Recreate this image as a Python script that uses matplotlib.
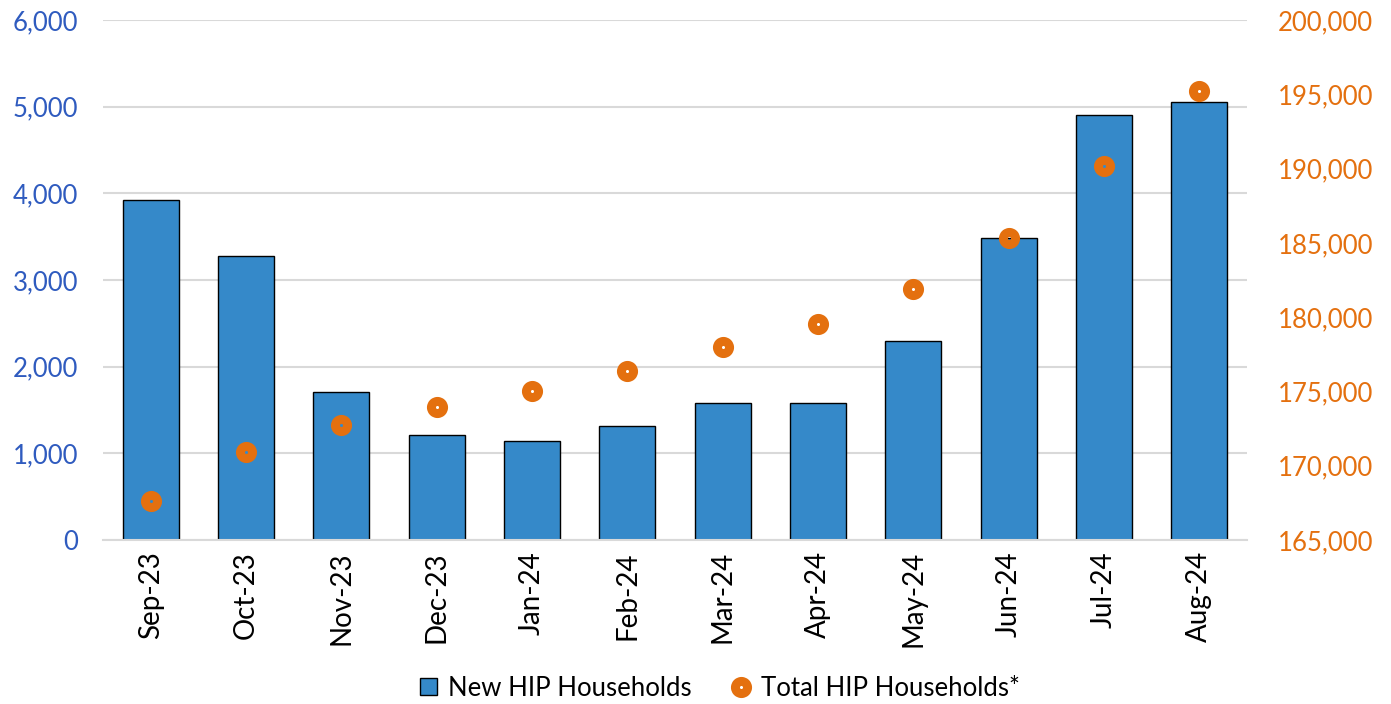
import matplotlib
matplotlib.use("Agg")
import matplotlib.pyplot as plt
from matplotlib.ticker import FuncFormatter, MultipleLocator
from matplotlib.lines import Line2D
from matplotlib.patches import Patch

months = ["Sep-23", "Oct-23", "Nov-23", "Dec-23", "Jan-24", "Feb-24",
          "Mar-24", "Apr-24", "May-24", "Jun-24", "Jul-24", "Aug-24"]
new_hip = [3920, 3280, 1710, 1210, 1140, 1315, 1580, 1580, 2295, 3485, 4905, 5055]
total_hip = [167600, 170900, 172750, 173950, 175000, 176400,
             178000, 179550, 181900, 185350, 190200, 195250]

BLUE_BAR = "#3589C9"
BLUE_TXT = "#2F5BBF"
ORANGE = "#E4700F"

plt.rcParams['font.family'] = ['Lato', 'DejaVu Sans']

fig = plt.figure(figsize=(13.91, 7.04), dpi=100)
ax = fig.add_axes([103/1391, 1 - 540/704, 1144/1391, 520/704])
x = list(range(len(months)))
ax.bar(x, new_hip, width=0.59, color=BLUE_BAR, edgecolor="black", linewidth=1.0, zorder=2)
ax.set_ylim(0, 6000)
ax.set_xlim(-0.5, len(months) - 0.5)
ax.yaxis.set_major_locator(MultipleLocator(1000))
ax.yaxis.set_major_formatter(FuncFormatter(lambda v, p: f"{int(v):,}"))
ax.grid(axis="y", color="#D9D9D9", linewidth=1.5, zorder=0)
ax.set_axisbelow(True)
for s in ["top", "right", "left"]:
    ax.spines[s].set_visible(False)
ax.spines["bottom"].set_color("#D9D9D9")
ax.spines["bottom"].set_linewidth(1.5)
ax.tick_params(axis="y", length=0, labelsize=18.5, labelcolor=BLUE_TXT, pad=18)
ax.tick_params(axis="x", length=0, labelsize=20, pad=8)
ax.set_xticks(x)
ax.set_xticklabels(months, rotation=90)

ax2 = ax.twinx()
ax2.set_ylim(165000, 200000)
ax2.yaxis.set_major_locator(MultipleLocator(5000))
ax2.yaxis.set_major_formatter(FuncFormatter(lambda v, p: f"{int(v):,}"))
for s in ["top", "right", "left", "bottom"]:
    ax2.spines[s].set_visible(False)
ax2.tick_params(axis="y", length=0, labelsize=18.5, labelcolor=ORANGE, pad=22)
ax2.plot(x, total_hip, linestyle="none", marker="o", markersize=8.8,
         markerfacecolor="none", markeredgecolor=ORANGE, markeredgewidth=6.4, zorder=3)

handles = [Patch(facecolor=BLUE_BAR, edgecolor="black", linewidth=1.0),
           Line2D([], [], linestyle="none", marker="o", markersize=8.8,
                  markerfacecolor="none", markeredgecolor=ORANGE, markeredgewidth=6.4)]
fig.legend(handles, ["New HIP Households", "Total HIP Households*"],
           loc="center", bbox_to_anchor=(720/1391, 1 - 688/704), ncol=2, frameon=False,
           fontsize=18.5, handlelength=0.65, handleheight=0.65, handletextpad=0.45,
           columnspacing=1.6)

fig.savefig("out.png", dpi=100)
